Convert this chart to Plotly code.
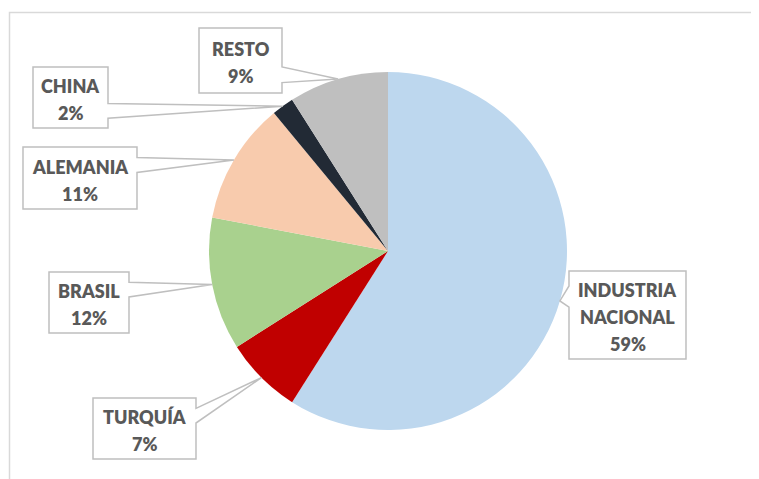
import numpy as np
import plotly.graph_objects as go

# Data
categories = ['INDUSTRIA NACIONAL', 'TURQUÍA', 'BRASIL', 'ALEMANIA', 'CHINA', 'RESTO']
values = [59, 7, 12, 11, 2, 9]
colors = ['#BDD7EE', '#C00000', '#A9D18E', '#F8CBAD', '#222A35', '#BFBFBF']

# Layout (pixels, page coordinates)
W, H = 759, 479
OFF = 8  # default body margin of the html page
cx, cy, r = 388, 251, 179

# Callout boxes (x0, y0, x1, y1) in pixels
boxes = [
    (569, 271, 686, 359),
    (93, 398, 196, 459),
    (49, 272, 129, 333),
    (23, 147, 137, 209),
    (33, 67, 108, 128),
    (199, 28, 282, 93),
]


def px(x):
    return (x - OFF) / W


def py(y):
    return 1 - (y - OFF) / H


fig = go.Figure(go.Pie(
    labels=categories,
    values=values,
    marker=dict(colors=colors, line=dict(width=0)),
    sort=False,
    direction='clockwise',
    rotation=0,
    textinfo='none',
    hoverinfo='label+percent',
    showlegend=False,
    domain=dict(x=[px(cx - r), px(cx + r)], y=[py(cy + r), py(cy - r)]),
))

shapes = []
annotations = []

# frame around the chart area
shapes.append(dict(type='rect', xref='paper', yref='paper',
                   x0=px(9.5), x1=1.05, y0=-0.05, y1=py(12.5),
                   line=dict(color='#D9D9D9', width=1.5), fillcolor='rgba(0,0,0,0)'))

total = sum(values)
cum = 0
for name, v, box in zip(categories, values, boxes):
    # tip of the callout at the middle of the slice edge
    theta = 2 * np.pi * (cum + v / 2) / total
    cum += v
    tx = cx + r * np.sin(theta)
    ty = cy - r * np.cos(theta)

    x0, y0, x1, y1 = box
    h = y1 - y0
    f1, f2 = (0.17, 0.41) if ty < (y0 + y1) / 2 else (0.6, 0.84)
    pts = [(x0, y0), (x1, y0)]
    if tx > x1:
        pts += [(x1, y0 + f1 * h), (tx, ty), (x1, y0 + f2 * h)]
    pts += [(x1, y1), (x0, y1)]
    if tx < x0:
        pts += [(x0, y0 + f2 * h), (tx, ty), (x0, y0 + f1 * h)]
    path = 'M ' + ' L '.join(f'{px(a):.5f},{py(b):.5f}' for a, b in pts) + ' Z'
    shapes.append(dict(type='path', xref='paper', yref='paper', path=path,
                       fillcolor='white', line=dict(color='#BFBFBF', width=1.5)))

    # label text, one annotation per line
    lines = name.split(' ') + [f'{v}%']
    mid_x = (x0 + x1) / 2
    mid_y = (y0 + y1) / 2 + 2
    step = 27
    start = mid_y - step * (len(lines) - 1) / 2
    for i, line in enumerate(lines):
        annotations.append(dict(
            x=px(mid_x), y=py(start + i * step), xref='paper', yref='paper',
            text=line, showarrow=False, xanchor='center', yanchor='middle',
            font=dict(family='Lato', size=18, color='#595959', weight=800),
        ))

fig.update_layout(
    width=W, height=H,
    margin=dict(l=0, r=0, t=0, b=0),
    paper_bgcolor='white',
    plot_bgcolor='white',
    shapes=shapes,
    annotations=annotations,
)

fig.write_html("out.html")
